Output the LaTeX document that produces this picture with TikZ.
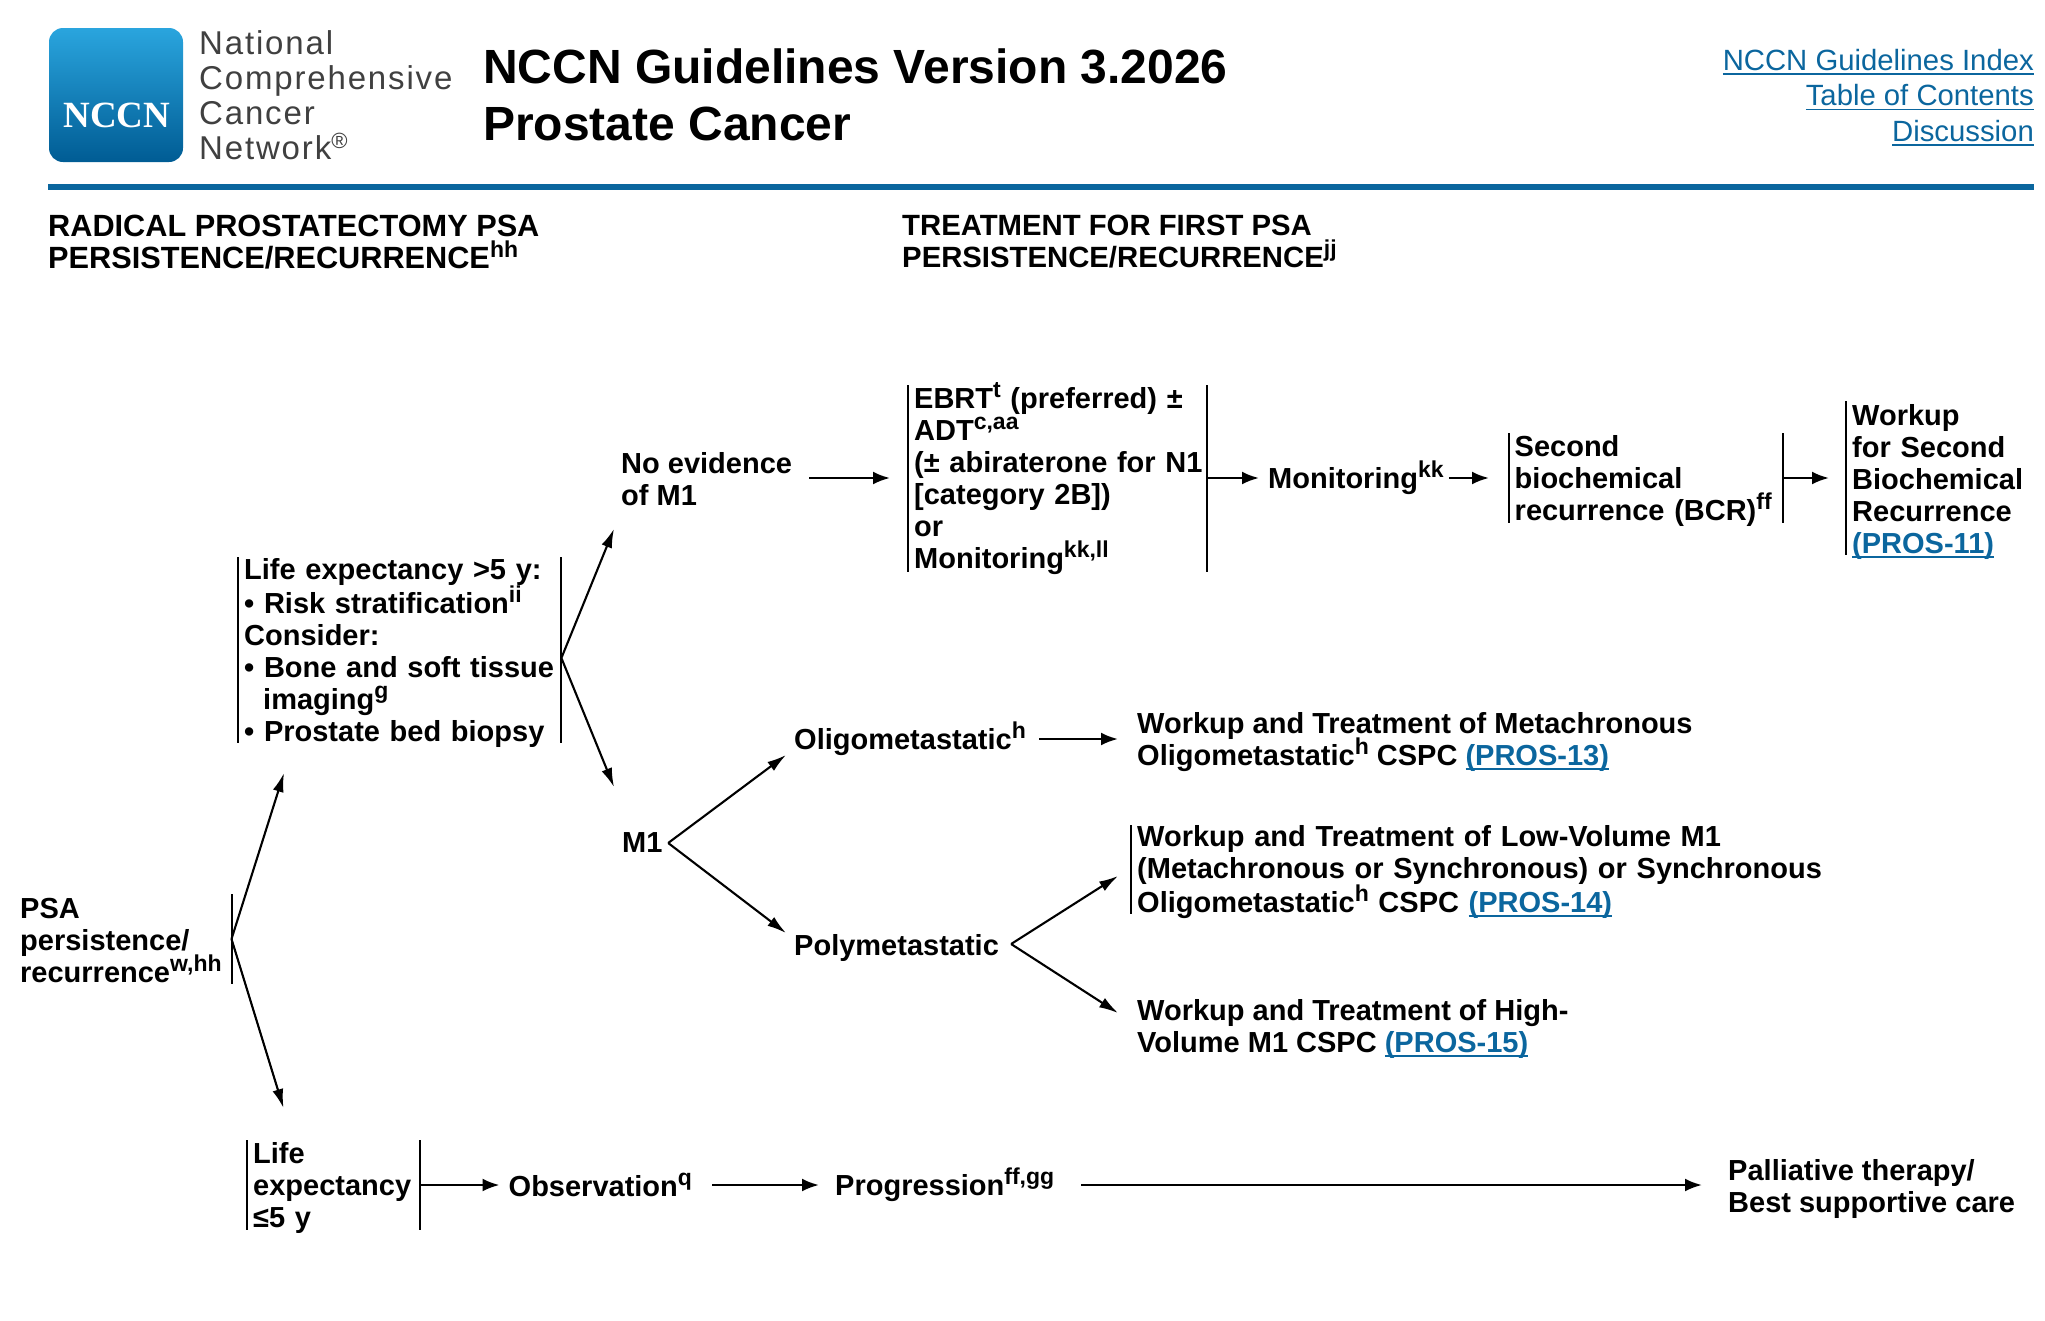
\documentclass[tikz,border=0pt]{standalone}
\usepackage{fontspec}
\setmainfont{Liberation Sans}
\newfontfamily\logoserif{Liberation Serif}
\newfontfamily\logosans[LetterSpace=5.6]{Liberation Sans}
\usetikzlibrary{arrows.meta}

\definecolor{nccnblue}{HTML}{0B669E}
\definecolor{logotop}{HTML}{2AA5DE}
\definecolor{logobot}{HTML}{005C94}

% superscript and link text
\newcommand{\sups}[1]{\raisebox{11pt}{\fontsize{23}{23}\selectfont #1}}
\newcommand{\lnk}[1]{\leavevmode{\color{nccnblue}\setbox0\hbox{#1}\rlap{\rule[-4.5pt]{\wd0}{1.8pt}}\box0}}
\lineskiplimit=-10pt

\tikzset{
  txt/.style={inner sep=0pt, anchor=west, align=left, font=\fontsize{29}{32}\selectfont\bfseries},
  barbox/.style={txt, inner xsep=6pt},
  heading/.style={txt, anchor=north west, font=\fontsize{#1}{32}\selectfont\bfseries},
  arr/.style={-{Latex[length=17pt,width=13pt]}, line width=2.5pt},
  fork/.style={-{Latex[length=19pt,width=11pt]}, line width=2.1pt},
  barline/.style={line width=2pt},
}

\begin{document}
\begin{tikzpicture}[x=1pt,y=-1pt]
\useasboundingbox (0,0) rectangle (2045,1320);

% header
\shade[top color=logotop, bottom color=logobot, rounded corners=14pt] (49,28) rectangle (183,162);
\node[inner sep=0pt, text=white] (logo) at (117,115) {\fontsize{37}{37}\logoserif\bfseries NCCN};
\node[inner sep=0pt, anchor=north west, align=left, text=black!75, font=\fontsize{33}{35}\logosans] (network) at (199,30)
  {National\\Comprehensive\\Cancer\\Network\raisebox{11pt}{\fontsize{22}{22}\selectfont\textregistered}};
\node[inner sep=0pt, anchor=north west, align=left, font=\fontsize{48}{57}\selectfont\bfseries] (title) at (483,49)
  {NCCN Guidelines Version 3.2026\\Prostate Cancer};
\node[inner sep=0pt, anchor=north east, align=right, font=\fontsize{29.3}{35.5}\selectfont] (links) at (2034,49)
  {\lnk{NCCN Guidelines Index}\\\lnk{Table of Contents}\\\lnk{Discussion}};
\fill[nccnblue] (48,184) rectangle (2034,190);

\node[heading=30.7] (headleft) at (48,215) {RADICAL PROSTATECTOMY PSA\\PERSISTENCE/RECURRENCE\sups{hh}};
\node[heading=29.3] (headright) at (902,215) {TREATMENT FOR FIRST PSA\\PERSISTENCE/RECURRENCE\sups{jj}};

% left column
\node[txt] (psa) at (20,941) {PSA\\persistence/\\recurrence\sups{w,hh}};
\coordinate (psabar) at (231.5,939);
\coordinate (psatop) at (231.5,894);
\coordinate (psabot) at (231.5,984);
\node[barbox, text width=311pt] (lifegt) at (238,653) {Life expectancy >5 y:\\• Risk stratification\sups{ii}\\Consider:\\\mbox{• Bone and soft tissue}\\\hspace*{19pt}imaging\sups{g}\\• Prostate bed biopsy};
\node[barbox, text width=160.5pt] (lifele) at (247,1188) {Life\\\mbox{expectancy}\\≤5 y};

% upper branch
\node[txt] (noev) at (621,479) {No evidence\\of M1};
\node[barbox, text width=287pt] (ebrt) at (908,479) {EBRT\sups{t} (preferred) ±\\ADT\sups{c,aa}\\\mbox{(± abiraterone for N1}\\{[}category 2B])\\or\\Monitoring\sups{kk,ll}};
\node[txt] (monit) at (1268,478) {Monitoring\sups{kk}};
\node[barbox, text width=262.5pt] (second) at (1508.5,481) {Second\\biochemical\\\mbox{recurrence (BCR)\sups{ff}}};
\node[barbox, text width=178pt] (workup) at (1846,482) {Workup\\for Second\\Biochemical\\Recurrence\\\lnk{(PROS-11)}};

% M1 branch
\node[txt] (mone) at (622,843) {M1};
\node[txt] (oligo) at (794,739) {Oligometastatic\sups{h}};
\node[txt] (poly) at (794,948) {Polymetastatic};
\node[txt] (wkoligo) at (1137,742) {Workup and Treatment of Metachronous\\Oligometastatic\sups{h} CSPC \lnk{(PROS-13)}};
\node[barbox, text width=700pt] (wklow) at (1131,872) {Workup and Treatment of Low-Volume M1\\(Metachronous or Synchronous) or Synchronous\\Oligometastatic\sups{h} CSPC \lnk{(PROS-14)}};
\node[txt] (wkhigh) at (1137,1029) {Workup and Treatment of High-\\Volume M1 CSPC \lnk{(PROS-15)}};

% bottom row
\node[txt] (obs) at (508.5,1185) {Observation\sups{q}};
\node[txt] (prog) at (835,1185) {Progression\sups{ff,gg}};
\node[txt] (pall) at (1728,1189) {Palliative therapy/\\Best supportive care};

% side bars
\draw[barline] (psatop) -- (psabot);
\foreach \n/\h/\s in {lifegt/93/3,lifele/45/3,ebrt/93.5/0.5,second/45/3,workup/77/4,wklow/44.5/2.5}
  \draw[barline] ([yshift=\h pt+\s pt]\n.west) -- ([yshift=-\h pt+\s pt]\n.west);
\foreach \n/\h/\s in {lifegt/93/3,lifele/45/3,ebrt/93.5/0.5,second/45/3}
  \draw[barline] ([yshift=\h pt+\s pt]\n.east) -- ([yshift=-\h pt+\s pt]\n.east);

% forks
\draw[fork] (psabar) -- ([shift={(52,169)}]psabar);
\draw[fork] (psabar) -- ([shift={(52.5,-166)}]psabar);
\draw[fork] ([yshift=-5pt]lifegt.east) -- ([shift={(-7,23)}]noev.south west);
\draw[fork] ([yshift=-5pt]lifegt.east) -- ([shift={(-8,-56)}]mone.west);
\draw[fork] ([xshift=5.5pt]mone.east) -- ([shift={(-8,16)}]oligo.west);
\draw[fork] ([xshift=5.5pt]mone.east) -- ([shift={(-8,-15)}]poly.west);
\draw[fork] ([shift={(12,-4)}]poly.east) -- ([shift={(-13,4)}]wklow.west);
\draw[fork] ([shift={(12,-4)}]poly.east) -- ([shift={(-19,-16)}]wkhigh.west);

% straight arrows
\draw[arr] ([xshift=17pt,yshift=1pt]noev.east) -- ([xshift=-18pt,yshift=1pt]ebrt.west);
\draw[arr] ([yshift=1pt]ebrt.east) -- ([xshift=-9pt]monit.west);
\draw[arr] ([xshift=5pt]monit.east) -- ([xshift=-19.5pt,yshift=3pt]second.west);
\draw[arr] ([yshift=3pt]second.east) -- ([xshift=-17pt,yshift=4pt]workup.west);
\draw[arr] ([xshift=13pt]oligo.east) -- ([xshift=-19pt,yshift=3pt]wkoligo.west);
\draw[arr] ([yshift=3pt]lifele.east) -- ([xshift=-9pt]obs.west);
\draw[arr] ([xshift=20pt]obs.east) -- ([xshift=-16pt]prog.west);
\draw[arr] ([xshift=27pt]prog.east) -- ([xshift=-26pt,yshift=4pt]pall.west);
\end{tikzpicture}
\end{document}
